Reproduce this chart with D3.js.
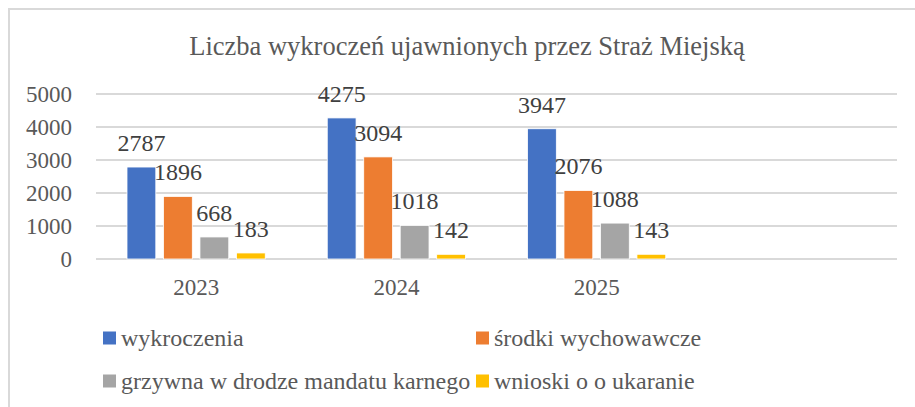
<!DOCTYPE html>
<html><head><meta charset="utf-8">
<script src="https://cdn.jsdelivr.net/npm/d3@7"></script>
</head><body style="margin:0;background:#fff">
<svg id="chart" width="915" height="407" style="display:block;font-family:'Liberation Serif',serif"></svg>
<script>
const title = "Liczba wykroczeń ujawnionych przez Straż Miejską";
const categories = ["2023", "2024", "2025", ""];
const seriesNames = ["wykroczenia", "środki wychowawcze", "grzywna w drodze mandatu karnego", "wnioski o o ukaranie"];
const wykroczenia = [2787, 4275, 3947];
const srodki = [1896, 3094, 2076];
const grzywna = [668, 1018, 1088];
const wnioski = [183, 142, 143];
const yTicks = [0, 1000, 2000, 3000, 4000, 5000];
const colors = ["#4472C4", "#ED7D31", "#A5A5A5", "#FFC000"];

const series = [wykroczenia, srodki, grzywna, wnioski];
const svg = d3.select("#chart");
const FONT = "'Liberation Serif', serif";
function serif(sel, size) {
  return sel.style("font-family", FONT, "important").style("font-size", size + "px");
}

svg.append("rect").attr("x", 9).attr("y", 9).attr("width", 1000).attr("height", 500)
  .attr("fill", "#fff").attr("stroke", "#d9d9d9").attr("stroke-width", 2);

serif(svg.append("text").attr("x", 467).attr("y", 55).attr("text-anchor", "middle")
  .attr("fill", "#595959").text(title), 26.5);

const x0 = d3.scaleBand().domain(categories).range([96, 897]).paddingInner(0).paddingOuter(0);
const x1 = d3.scaleBand().domain(d3.range(series.length)).range([31, x0.bandwidth() - 31]).paddingInner(0.21);
const y = d3.scaleLinear().domain([0, 5000]).range([259, 94]);

const grid = svg.append("g");
grid.selectAll("line").data(yTicks).join("line")
  .attr("x1", 96).attr("x2", 897).attr("y1", d => y(d)).attr("y2", d => y(d))
  .attr("stroke", "#d9d9d9").attr("stroke-width", 2);

const yAxis = d3.axisLeft(y).tickValues(yTicks).tickSize(0).tickPadding(24).tickFormat(d3.format("d"));
const gy = svg.append("g").attr("transform", "translate(96,0)").call(yAxis);
gy.select(".domain").remove();
serif(gy.selectAll("text").attr("fill", "#595959"), 23);

const xAxis = d3.axisBottom(x0).tickSize(0).tickPadding(20);
const gx = svg.append("g").attr("transform", "translate(0,259)").call(xAxis);
gx.select(".domain").remove();
serif(gx.selectAll("text").attr("fill", "#595959"), 23);

const groups = svg.append("g").selectAll("g").data(categories.slice(0, 3)).join("g")
  .attr("transform", c => `translate(${x0(c)},0)`);

series.forEach((vals, si) => {
  groups.append("rect")
    .attr("x", x1(si)).attr("width", x1.bandwidth())
    .attr("y", (c, i) => y(vals[i])).attr("height", (c, i) => y(0) - y(vals[i]))
    .attr("fill", colors[si]).attr("stroke", "#fff").attr("stroke-width", 0.8);
});
series.forEach((vals, si) => {
  serif(groups.append("text")
    .attr("x", x1(si) + x1.bandwidth() / 2).attr("y", (c, i) => y(vals[i]) - 16)
    .attr("text-anchor", "middle")
    .attr("fill", "#404040").text((c, i) => vals[i]), 24);
});

const legend = svg.append("g");
const legPos = [[103, 338], [476, 338], [103, 381], [476, 381]];
seriesNames.forEach((name, i) => {
  const [lx, ly] = legPos[i];
  legend.append("rect").attr("x", lx).attr("y", ly - 6.5).attr("width", 13).attr("height", 13).attr("fill", colors[i]);
  serif(legend.append("text").attr("x", lx + 18).attr("y", ly + 8)
    .attr("fill", "#595959").text(name), 24);
});
</script>
</body></html>
